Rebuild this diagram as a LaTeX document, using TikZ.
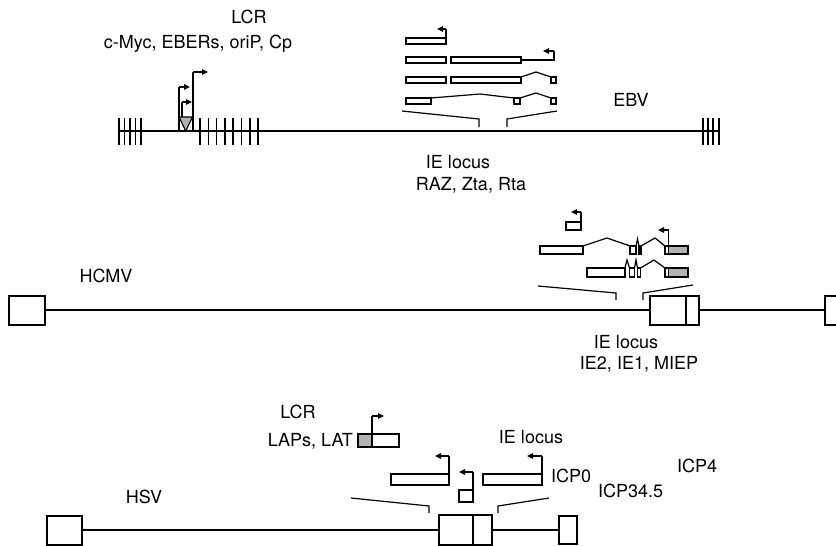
\documentclass[tikz,border=0pt]{standalone}
\usepackage{fontspec}
\setmainfont{TeX Gyre Heros}
\usetikzlibrary{arrows.meta}
\begin{document}
\begin{tikzpicture}[x=1pt,y=-1pt,
  lbl/.style={inner sep=0pt,font=\fontsize{18}{21}\selectfont},
  thinaxis/.style={line width=1.4pt},
  thickaxis/.style={line width=2.4pt},
  tick/.style={line width=1.5pt},
  exon/.style={draw,line width=1.4pt,fill=white},
  greyexon/.style={draw,line width=1.4pt,fill=black!30},
  intron/.style={line width=1.2pt},
  stem/.style={line width=1.4pt},
  flagline/.style={line width=1.4pt,-{Triangle[length=6pt,width=5.5pt]}},
  brk/.style={line width=1.2pt}]
\useasboundingbox (0,0) rectangle (836,546);
\clip (0,0) rectangle (836,546);

% ================= EBV =================
\node[lbl] (lcrA) at (249,17) {LCR};
\node[lbl] (lcrAgenes) at (198,44) {c-Myc, EBERs, oriP, Cp};
\node[lbl] (ebv) at (631,100) {EBV};
\node[lbl] (ieA) at (458,162) {IE locus};
\node[lbl] (ieAgenes) at (471,185) {RAZ, Zta, Rta};

\draw[thinaxis] (118,131) -- (720,131);
\foreach \x in {119,124.5,130,135.5,141} \draw[tick] (\x,118) -- (\x,145);
\foreach \x in {200,208.3,216.6,224.9,233.2,241.5,249.8,258} \draw[tick] (\x,118) -- (\x,145);
\foreach \x in {703,708,713} \draw[tick] (\x,118) -- (\x,145);
\draw[line width=2.2pt] (719,118) -- (719,145);

% LCR promoters
\fill[black!30] (179,117) -- (192.5,117) -- (185.7,131) -- cycle;
\draw[line width=1.1pt] (179,117) -- (192.5,117) -- (185.7,131) -- cycle;
\draw[stem] (179,131) -- (179,87);
\draw[flagline] (179,87) -- (190,87);
\draw[stem] (182,117) -- (182,102);
\draw[flagline] (182,102) -- (192,102);
\draw[stem] (193,131) -- (193,72);
\draw[flagline] (193,72) -- (208,72);

% IE transcripts
\draw[exon] (406,38) rectangle (446,44);
\draw[stem] (446,38) -- (446,29);
\draw[flagline] (446,29) -- (437,29);

\draw[exon] (406,57) rectangle (446,63);
\draw[exon] (451,57) rectangle (521,63);
\draw[stem] (521,60) -- (554,60) -- (554,51);
\draw[flagline] (554,51) -- (543,51);

\draw[exon] (406,77) rectangle (446,83);
\draw[exon] (451,77) rectangle (521,83);
\draw[intron] (521,77) -- (536,72) -- (551,77);
\draw[exon] (551,77) rectangle (556,83);

\draw[exon] (406,98) rectangle (431,104);
\draw[intron] (431,98) -- (480,94) -- (514,98);
\draw[exon] (514,98) rectangle (520,104);
\draw[intron] (520,98) -- (536,93) -- (551,98);
\draw[exon] (551,98) rectangle (556,104);

\draw[brk] (402,111) -- (479,119) -- (479,127);
\draw[brk] (507,127) -- (507,119) -- (557,111);

% ================= HCMV =================
\node[lbl] (hcmv) at (106,276) {HCMV};
\node[lbl] (ieB) at (626,342) {IE locus};
\node[lbl] (ieBgenes) at (639,364) {IE2, IE1, MIEP};

\draw[thickaxis] (45,310) -- (825,310);
\draw[exon] (9,296) rectangle (45,325);
\draw[exon] (825,296) rectangle (861,325);
\draw[exon] (650,296) rectangle (699,325);
\draw[stem] (686,296) -- (686,325);

\draw[exon] (566,222) rectangle (581,230);
\draw[stem] (581,222) -- (581,212);
\draw[flagline] (581,212) -- (571,212);

\draw[exon] (540,246) rectangle (583,254);
\draw[intron] (583,246) -- (607,238) -- (630,246);
\draw[exon] (630,246) rectangle (636,254);
\draw[intron] (636,246) -- (637.5,239) -- (639,246);
\draw[exon] (639,246) rectangle (641,254);
\draw[intron] (641,246) -- (655,238) -- (665,246);
\draw[exon] (665,246) rectangle (668.5,254);
\draw[greyexon] (668.5,246) rectangle (688,254);
\draw[stem] (668.5,246) -- (668.5,230);
\draw[flagline] (668.5,230) -- (658,230);

\draw[exon] (587,268) rectangle (625,277);
\draw[intron] (625,268) -- (627,260) -- (629.5,268);
\draw[exon] (629.5,268) rectangle (634.5,277);
\draw[intron] (634.5,268) -- (636,260) -- (637.5,268);
\draw[exon] (637.5,268) rectangle (640.5,277);
\draw[intron] (640.5,268) -- (654,260) -- (665,268);
\draw[exon] (665,268) rectangle (668.5,277);
\draw[greyexon] (668.5,268) rectangle (688,277);

\draw[brk] (538,286) -- (616,293) -- (616,300);
\draw[brk] (643,300) -- (643,293) -- (693,285);

% ================= HSV =================
\node[lbl] (lcrC) at (298,412) {LCR};
\node[lbl,anchor=east] (lcrCgenes) at (353,441) {LAPs, LAT};
\node[lbl] (ieC) at (531,437) {IE locus};
\node[lbl,anchor=west] (icp0) at (551,476) {ICP0};
\node[lbl,anchor=west] (icp345) at (598,491) {ICP34.5};
\node[lbl,anchor=west] (icp4) at (677,466) {ICP4};
\node[lbl] (hsv) at (144,497) {HSV};

\draw[thickaxis] (82,530) -- (559,530);
\draw[exon] (47,516) rectangle (82,545);
\draw[exon] (439,515) rectangle (492,545);
\draw[stem] (473,515) -- (473,545);
\draw[exon] (559,516) rectangle (577,544);

\draw[greyexon] (358,434) rectangle (372,447);
\draw[exon] (372,434) rectangle (399,447);
\draw[stem] (372,434) -- (372,416);
\draw[flagline] (372,416) -- (384,416);

\draw[exon] (391,474) rectangle (449,485);
\draw[stem] (449,474) -- (449,456);
\draw[flagline] (449,456) -- (435,456);

\draw[exon] (459,490) rectangle (473,502);
\draw[stem] (473,490) -- (473,472);
\draw[flagline] (473,472) -- (459,472);

\draw[exon] (483,474) rectangle (542,485);
\draw[stem] (542,474) -- (542,456);
\draw[flagline] (542,456) -- (527,456);

\draw[brk] (351,498) -- (429,506) -- (429,513);
\draw[brk] (498,513) -- (498,506) -- (549,498);
\end{tikzpicture}
\end{document}
